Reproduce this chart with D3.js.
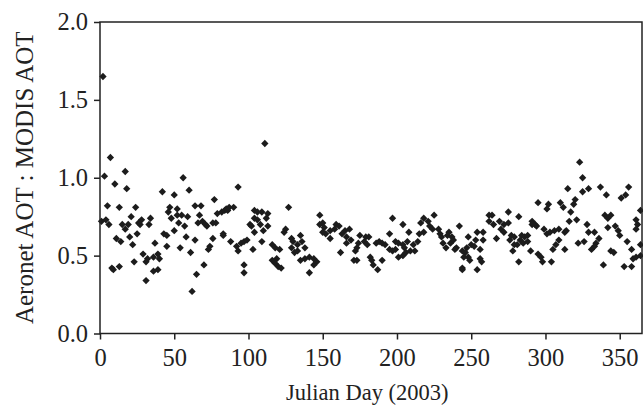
<!DOCTYPE html>
<html>
<head>
<meta charset="utf-8">
<script src="https://cdn.jsdelivr.net/npm/d3@7"></script>
<style>
	body { margin: 0; background: #fff; }
	svg text { font-family: "Liberation Serif", "DejaVu Serif", serif; fill: #222; }
</style>
</head>
<body>
<div id="graphic"></div>
<script>

// ratio of Aeronet AOT to MODIS AOT by Julian day
var days = [
	2, 7, 3, 17, 10, 18, 5, 13, 24, 21, 1, 4, 6, 15, 17, 19, 26, 28, 34, 33,
	27, 25, 20, 11, 14, 22, 8, 9, 13, 23, 29, 32, 31, 36, 39, 40, 37, 36, 39, 31,
	42, 50, 43, 45, 45, 47, 46, 48, 50,
	56, 60, 93, 77, 64, 68, 52, 52, 55, 59, 67, 66, 69, 71, 72, 76, 78, 53, 57, 79,
	82, 85, 87, 90, 84, 86, 58, 64, 54, 61, 76, 74, 73, 83, 83, 88, 92, 93, 95, 97,
	99, 101, 102, 104, 104, 103, 70, 65, 97, 97, 62,
	111, 127, 148, 148, 106, 109, 113, 106, 112, 108, 113, 110, 104, 109, 125, 124, 116, 118, 121, 129,
	130, 133, 135, 136, 138, 129, 131, 133, 135, 138, 116, 118, 120, 122, 119, 141, 144, 146, 144, 141,
	150, 151, 152, 155, 155, 150,
	197, 159, 161, 158, 165, 168, 163, 166, 169, 166, 175, 179, 181, 178, 180, 174, 173, 172, 162, 171,
	173, 182, 183, 184, 187, 190, 186, 188, 190, 192, 195, 197, 199, 195, 199, 201, 204, 204, 207, 205,
	208, 201, 204, 206, 209,
	225, 218, 221, 216, 222, 218, 215, 224, 214, 211, 212, 228, 229, 230, 231, 233, 234, 235, 237, 238,
	236, 240, 239, 242, 248, 247, 250, 252, 253, 254, 258, 258, 256, 244, 246, 245, 248, 249, 256, 257,
	244, 244, 254, 262, 262,
	295, 302, 301, 310, 312, 315, 264, 275, 282, 265, 269, 272, 275, 270, 272, 277, 279, 267, 276, 284,
	286, 288, 283, 285, 281, 288, 291, 293, 294, 291, 299, 301, 303, 306, 309, 313, 309, 307, 305, 313,
	279, 278, 290, 295, 297, 298, 282, 304, 314,
	323, 325, 325, 329, 337, 341, 356, 354, 351, 320, 319, 317, 316, 321, 328, 329, 333, 322, 326, 336,
	334, 333, 331, 340, 342, 344, 342, 347, 349, 350, 361, 362, 361, 364, 344, 346, 355, 358, 359, 361,
	364, 364, 339, 353, 358
];

var ratios = [
	1.65, 1.13, 1.01, 1.04, 0.96, 0.93, 0.82, 0.81, 0.81, 0.75, 0.72, 0.73, 0.70, 0.70, 0.67, 0.70, 0.71, 0.73, 0.74, 0.70,
	0.70, 0.64, 0.62, 0.61, 0.59, 0.57, 0.42, 0.41, 0.43, 0.46, 0.51, 0.48, 0.46, 0.49, 0.51, 0.48, 0.58, 0.40, 0.41, 0.34,
	0.91, 0.89, 0.64, 0.63, 0.56, 0.81, 0.78, 0.74, 0.66,
	1.00, 0.92, 0.94, 0.86, 0.82, 0.82, 0.80, 0.76, 0.76, 0.75, 0.76, 0.71, 0.72, 0.70, 0.69, 0.71, 0.71, 0.71, 0.69, 0.77,
	0.78, 0.80, 0.81, 0.81, 0.79, 0.79, 0.62, 0.60, 0.55, 0.52, 0.61, 0.56, 0.54, 0.64, 0.63, 0.59, 0.56, 0.53, 0.58, 0.59,
	0.60, 0.70, 0.69, 0.74, 0.79, 0.54, 0.44, 0.38, 0.44, 0.39, 0.27,
	1.22, 0.81, 0.76, 0.70, 0.78, 0.78, 0.77, 0.73, 0.74, 0.70, 0.69, 0.66, 0.65, 0.59, 0.67, 0.65, 0.57, 0.55, 0.54, 0.61,
	0.59, 0.57, 0.63, 0.59, 0.55, 0.55, 0.52, 0.53, 0.47, 0.48, 0.47, 0.45, 0.43, 0.42, 0.48, 0.49, 0.48, 0.46, 0.44, 0.39,
	0.71, 0.68, 0.64, 0.66, 0.61, 0.65,
	0.74, 0.70, 0.69, 0.67, 0.66, 0.67, 0.64, 0.62, 0.60, 0.58, 0.63, 0.62, 0.62, 0.59, 0.57, 0.58, 0.55, 0.53, 0.52, 0.47,
	0.47, 0.49, 0.47, 0.44, 0.41, 0.47, 0.58, 0.59, 0.58, 0.57, 0.54, 0.53, 0.54, 0.64, 0.59, 0.58, 0.70, 0.57, 0.59, 0.55,
	0.65, 0.49, 0.50, 0.52, 0.53,
	0.76, 0.74, 0.72, 0.71, 0.69, 0.65, 0.64, 0.67, 0.59, 0.57, 0.53, 0.67, 0.64, 0.62, 0.58, 0.55, 0.63, 0.65, 0.62, 0.60,
	0.58, 0.55, 0.54, 0.69, 0.62, 0.55, 0.57, 0.56, 0.60, 0.65, 0.65, 0.60, 0.54, 0.53, 0.52, 0.49, 0.49, 0.47, 0.48, 0.46,
	0.42, 0.41, 0.41, 0.76, 0.72,
	0.84, 0.83, 0.80, 0.84, 0.81, 0.93, 0.76, 0.78, 0.75, 0.70, 0.72, 0.70, 0.71, 0.67, 0.65, 0.63, 0.62, 0.61, 0.60, 0.63,
	0.62, 0.63, 0.60, 0.58, 0.57, 0.59, 0.72, 0.70, 0.69, 0.70, 0.67, 0.64, 0.65, 0.66, 0.67, 0.65, 0.60, 0.57, 0.54, 0.54,
	0.57, 0.53, 0.53, 0.51, 0.49, 0.46, 0.46, 0.46, 0.66,
	1.10, 1.00, 0.91, 0.93, 0.94, 0.89, 0.94, 0.89, 0.87, 0.86, 0.83, 0.78, 0.72, 0.73, 0.70, 0.65, 0.65, 0.58, 0.59, 0.61,
	0.58, 0.56, 0.54, 0.76, 0.74, 0.76, 0.68, 0.69, 0.66, 0.63, 0.73, 0.70, 0.67, 0.79, 0.53, 0.52, 0.59, 0.54, 0.48, 0.49,
	0.57, 0.50, 0.44, 0.43, 0.43
];

var xTicks = [0, 50, 100, 150, 200, 250, 300, 350];
var yTicks = [0, 0.5, 1.0, 1.5, 2.0];

var xTitle = 'Julian Day (2003)';
var yTitle = 'Aeronet AOT : MODIS AOT';

renderGraphic({
	container: 'graphic',
	width: 643,
	height: 405
});

function renderGraphic(config) {

	var width = config.width,
		height = config.height;

	var margins = {
		top: 22,
		right: 1,
		bottom: 71.5,
		left: 100
	};

	var chartWidth = width - margins.left - margins.right;
	var chartHeight = height - margins.top - margins.bottom;

	var inkColor = '#222';

	var svg = d3.select('#' + config.container)
		.append('svg')
		.attr('width', width)
		.attr('height', height);

	var chartElement = svg.append('g')
		.attr('transform', 'translate(' + margins.left + ',' + margins.top + ')');

	var x = d3.scaleLinear().domain([0, 365]).range([0, chartWidth]),
		y = d3.scaleLinear().domain([0, 2]).range([chartHeight, 0]);

	// 1. points
	var pts = d3.zip(days, ratios);
	var diamond = d3.symbol().type(d3.symbolDiamond2).size(34);

	chartElement.append('g')
		.attr('class', 'points')
		.selectAll('path')
		.data(pts)
		.enter().append('path')
		.attr('d', diamond)
		.attr('fill', '#1c1c1c')
		.attr('transform', function(d) {
			return 'translate(' + x(d[0]) + ',' + y(d[1]) + ')';
		});

	// 2. frame & axes
	chartElement.append('rect')
		.attr('width', chartWidth)
		.attr('height', chartHeight)
		.attr('fill', 'none')
		.attr('stroke', inkColor)
		.attr('stroke-width', 1.5);

	chartElement.append('g')
		.attr('class', 'axis axis-y')
		.call(d3.axisLeft(y)
			.tickValues(yTicks)
			.tickSize(6)
			.tickPadding(6)
			.tickFormat(d3.format('.1f')));

	chartElement.append('g')
		.attr('class', 'axis axis-x')
		.attr('transform', 'translate(0,' + chartHeight + ')')
		.call(d3.axisBottom(x)
			.tickValues(xTicks)
			.tickSize(6)
			.tickPadding(9));

	chartElement.selectAll('.axis .domain').remove();
	chartElement.selectAll('.axis line')
		.attr('stroke', inkColor)
		.attr('stroke-width', 1.5);
	chartElement.selectAll('.axis text')
		.attr('fill', inkColor)
		.style('font-size', '24.5px');

	// 3. titles
	svg.append('text')
		.attr('x', margins.left + x(180))
		.attr('y', 400)
		.attr('text-anchor', 'middle')
		.style('font-size', '22.5px')
		.text(xTitle);

	svg.append('text')
		.attr('transform', 'translate(33,' + (margins.top + y(1.0)) + ') rotate(-90)')
		.attr('text-anchor', 'middle')
		.style('font-size', '25px')
		.text(yTitle);

} // end of renderGraphic()

</script>
</body>
</html>
